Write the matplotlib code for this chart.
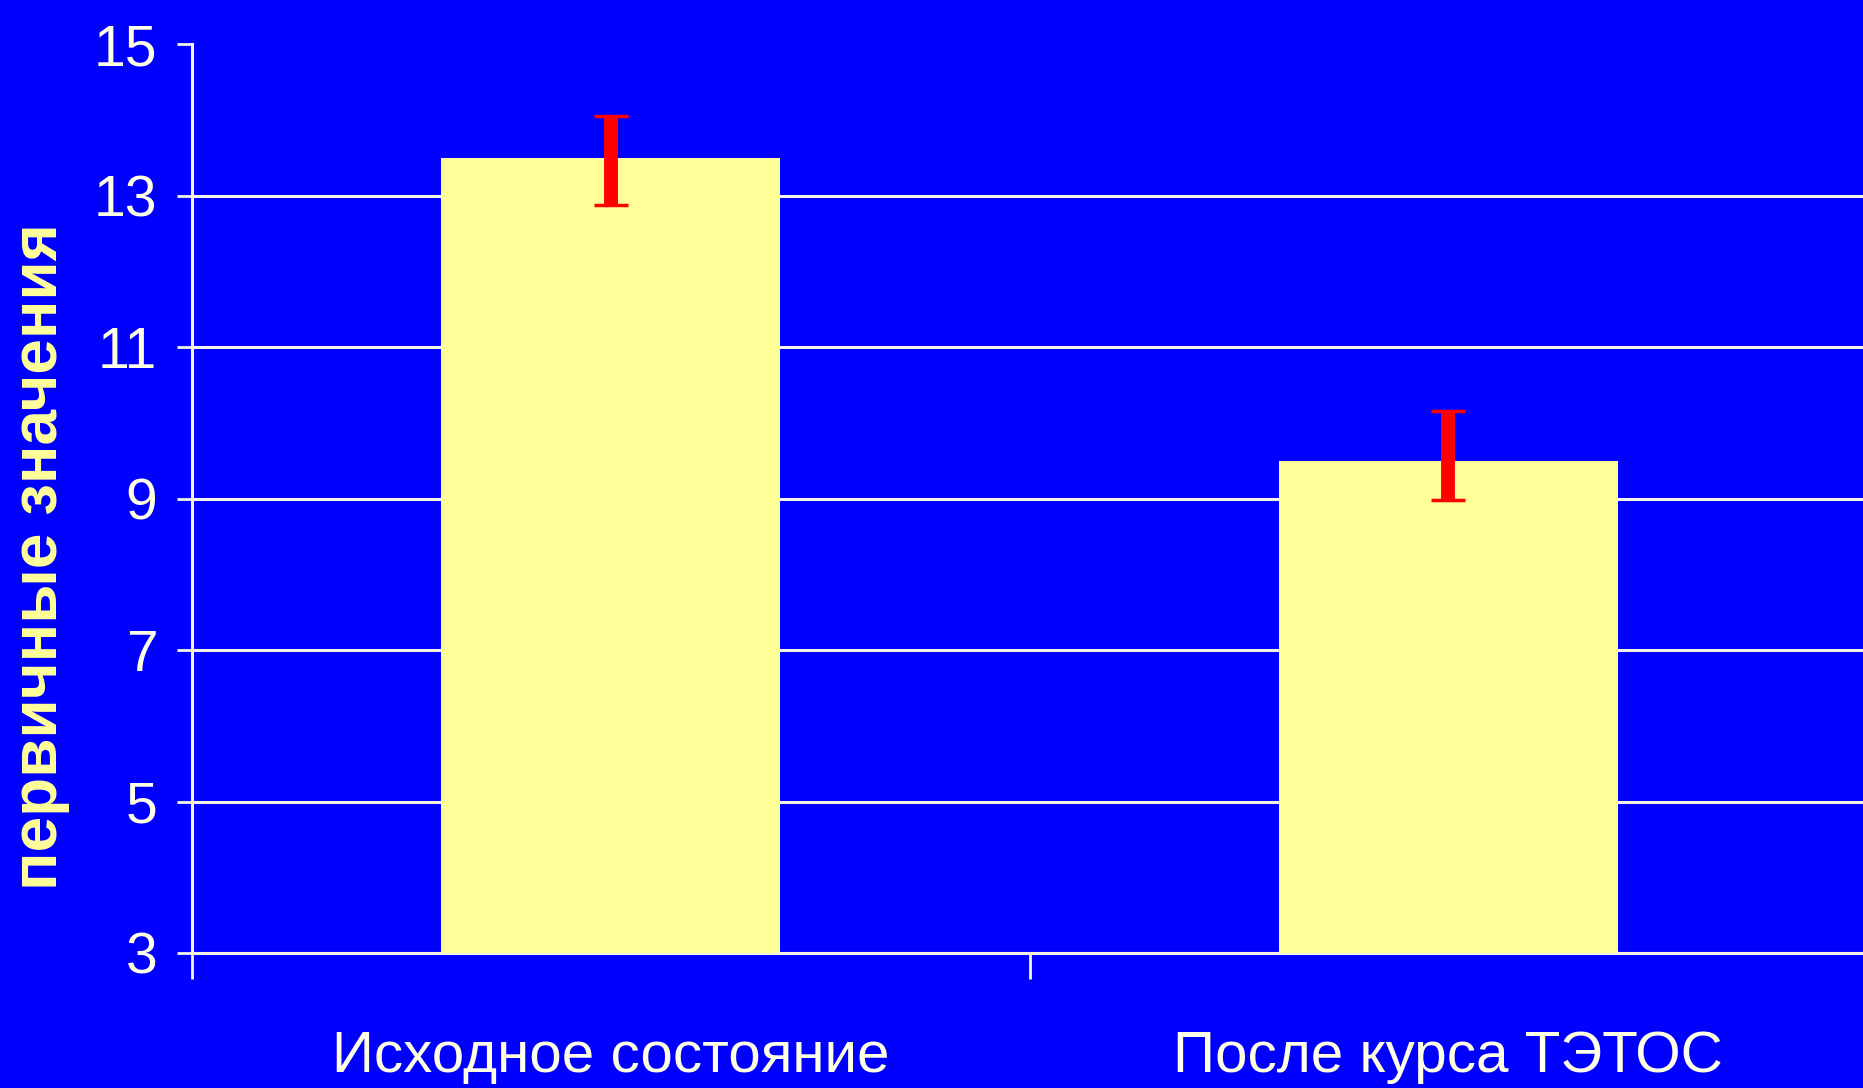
import matplotlib
matplotlib.use("Agg")
import matplotlib.pyplot as plt
import matplotlib.transforms as mtransforms
import numpy as np

categories = ["Исходное состояние", "После курса ТЭТОС"]
values = [13.5, 9.5]
err_low = [0.63, 0.52]
err_high = [0.55, 0.65]
yticks = [3, 5, 7, 9, 11, 13, 15]
ylabel = "первичные значения"

BG = "#0000FF"
BAR = "#FFFF99"
LINE = "#F4F4E6"
TXT = "#FFFFE6"
LBL = "#FFFF99"

sans = ["Liberation Sans", "DejaVu Sans"]

fig = plt.figure(figsize=(18.63, 10.88), dpi=100, facecolor=BG)
ax = fig.add_axes([192 / 1863, 1 - 953 / 1088, (1867 - 192) / 1863, (953 - 44) / 1088])
ax.set_facecolor(BG)

x = np.arange(len(categories))
ax.bar(x, values, width=0.405, color=BAR, zorder=3)
ax.errorbar(x, values, yerr=[err_low, err_high], fmt="none", ecolor="#FF0000",
            elinewidth=10, capsize=12.5, capthick=2.5, zorder=4)

ax.set_xlim(-0.5, len(categories) - 0.5)
ax.set_ylim(3, 15)
ax.set_yticks(yticks)
ax.set_yticklabels([str(t) for t in yticks], fontfamily=sans, fontsize=41, color=TXT)
ax.tick_params(axis="y", length=11, width=2, color=LINE, pad=14)

ax.set_xticks(np.arange(-0.5, len(categories), 1.0))
ax.set_xticklabels([])
ax.tick_params(axis="x", length=19, width=2, color=LINE)

ax.grid(axis="y", color=LINE, linewidth=2.2, zorder=1)
ax.set_axisbelow(True)
ax.yaxis.get_gridlines()[-1].set_visible(False)

for s in ["top", "right"]:
    ax.spines[s].set_visible(False)
for s in ["left", "bottom"]:
    ax.spines[s].set_color(LINE)
    ax.spines[s].set_linewidth(2.2)

trans = mtransforms.blended_transform_factory(ax.transData, fig.transFigure)
for xi, lab in zip(x, categories):
    ax.text(xi, 1 - 1072 / 1088, lab, transform=trans, ha="center", va="baseline",
            fontfamily=sans, fontsize=42, color=TXT, clip_on=False)

fig.text(40 / 1863, 1 - 557 / 1088, ylabel, rotation=90, ha="center", va="center",
         fontfamily=sans, fontweight="bold", fontsize=46, color=LBL)

fig.savefig("out.png", dpi=100, facecolor=BG)
